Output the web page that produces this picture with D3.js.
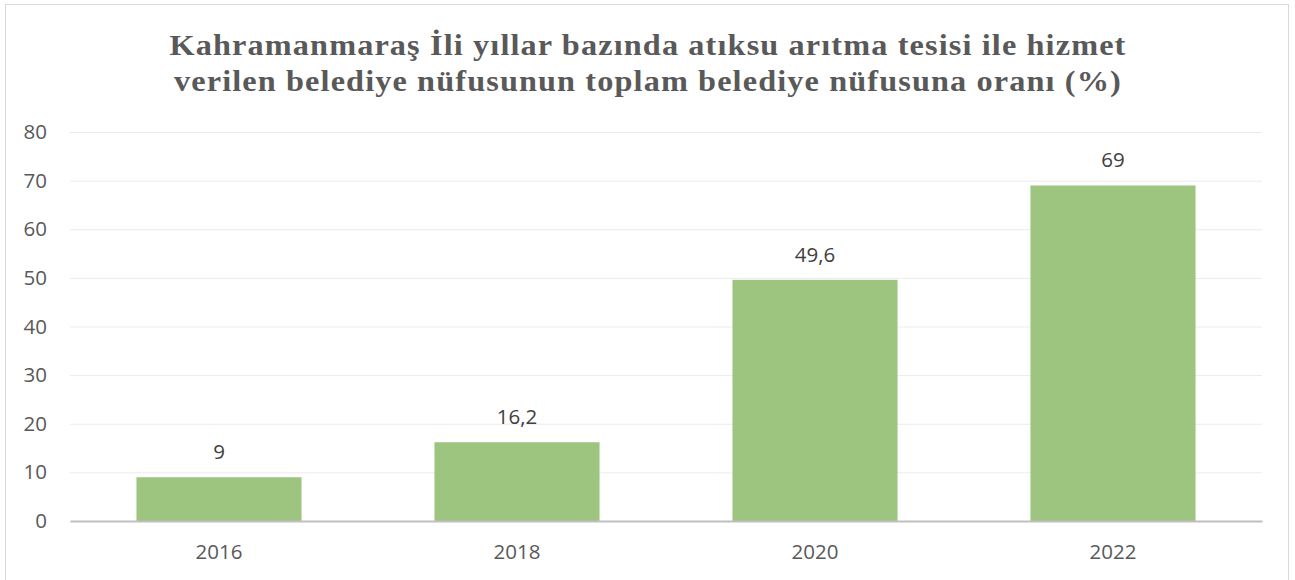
<!DOCTYPE html>
<html>
<head>
<meta charset="utf-8">
<script src="https://cdn.jsdelivr.net/npm/d3@7"></script>
<style>
  body { margin: 0; background: #fff; }
</style>
</head>
<body>
<div id="chart"></div>
<script>
// chart data
const years = ["2016", "2018", "2020", "2022"];
const ratios = [9, 16.2, 49.6, 69];
const yTicks = [0, 10, 20, 30, 40, 50, 60, 70, 80];
const titleLines = [
    "Kahramanmaraş İli yıllar bazında atıksu arıtma tesisi ile hizmet",
    "verilen belediye nüfusunun toplam belediye nüfusuna oranı (%)"
];

const W = 1295, H = 580;
const margin = {top: 132, right: 33, bottom: 59, left: 70},
    width = W - margin.left - margin.right,
    height = H - margin.top - margin.bottom;

const svg = d3.select("#chart")
    .append("svg")
    .attr("width", W)
    .attr("height", H);

// outer frame
svg.append("rect")
    .attr("x", 5.5).attr("y", 4.5)
    .attr("width", 1283).attr("height", 600)
    .attr("fill", "#fff")
    .attr("stroke", "#d9d9d9")
    .attr("stroke-width", 1);

// title (stretched like the original)
const titleWidths = [957, 948];
svg.append("g").selectAll("text")
    .data(titleLines)
    .enter()
    .append("text")
    .attr("x", (d, i) => 648 - titleWidths[i] / 2)
    .attr("y", (d, i) => 55 + i * 36)
    .attr("textLength", (d, i) => titleWidths[i])
    .attr("lengthAdjust", "spacingAndGlyphs")
    .attr("font-family", "'Liberation Serif', 'Times New Roman', serif")
    .attr("font-weight", 700)
    .attr("font-size", "29px")
    .attr("letter-spacing", "1px")
    .attr("fill", "#595959")
    .text(d => d);

const g = svg.append("g")
    .attr("transform", `translate(${margin.left},${margin.top})`);

const x = d3.scaleBand()
    .domain(years)
    .range([0, width])
    .paddingInner(0.446)
    .paddingOuter(0.223);

const y = d3.scaleLinear()
    .domain([0, 80])
    .range([height, 0]);

const labelFont = "'Open Sans', 'Noto Sans', sans-serif";

// gridlines
g.append("g")
    .attr("class", "grid")
    .call(d3.axisLeft(y).tickValues(yTicks).tickSize(-width).tickFormat(""))
    .call(s => s.select(".domain").remove())
    .call(s => s.selectAll("line").attr("stroke", "#ebebeb").attr("stroke-width", 1));

// y axis labels
g.append("g")
    .call(d3.axisLeft(y).tickValues(yTicks).tickSize(0).tickPadding(23))
    .call(s => s.select(".domain").remove())
    .call(s => s.selectAll("text")
        .attr("font-family", labelFont)
        .attr("font-size", "20.5px")
        .attr("fill", "#595959"));

// bars
g.append("g").selectAll("rect")
    .data(ratios)
    .enter()
    .append("rect")
    .attr("x", (d, i) => x(years[i]))
    .attr("y", d => y(d))
    .attr("width", x.bandwidth())
    .attr("height", d => height - y(d))
    .attr("fill", "#9dc57f");

// value labels
g.append("g").selectAll("text")
    .data(ratios)
    .enter()
    .append("text")
    .attr("x", (d, i) => x(years[i]) + x.bandwidth() / 2)
    .attr("y", d => y(d) - 18)
    .attr("text-anchor", "middle")
    .attr("font-family", labelFont)
    .attr("font-size", "20.5px")
    .attr("fill", "#404040")
    .text(d => String(d).replace(".", ","));

// x axis
g.append("g")
    .attr("transform", `translate(0,${height})`)
    .call(d3.axisBottom(x).tickSize(0).tickPadding(23))
    .call(s => s.select(".domain").attr("stroke", "#bfbfbf").attr("stroke-width", 2))
    .call(s => s.selectAll("text")
        .attr("font-family", labelFont)
        .attr("font-size", "20.5px")
        .attr("fill", "#595959"));
</script>
</body>
</html>
